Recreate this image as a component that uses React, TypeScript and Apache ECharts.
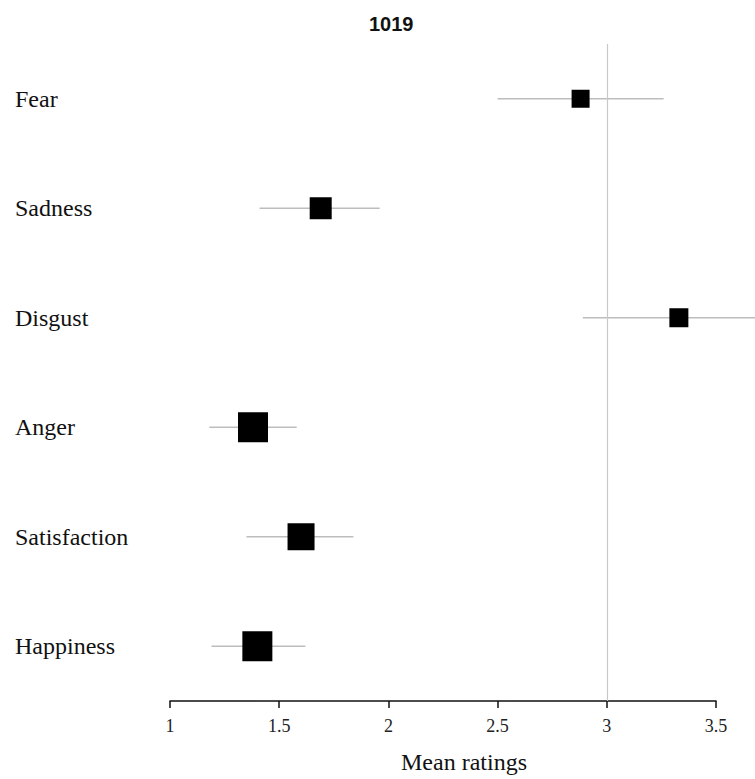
import React, { useEffect, useRef } from "react";
import * as echarts from "echarts";

const categories = ["Fear", "Sadness", "Disgust", "Anger", "Satisfaction", "Happiness"];
const means = [2.88, 1.69, 3.33, 1.38, 1.6, 1.4];
const lower = [2.5, 1.41, 2.89, 1.18, 1.35, 1.19];
const upper = [3.26, 1.96, 3.78, 1.58, 1.84, 1.62];
const weights = [18, 22, 19, 30, 27, 30];
const xTicks = [1, 1.5, 2, 2.5, 3, 3.5];
const referenceValue = 3;

export default function App() {
  const ref = useRef<HTMLDivElement>(null);
  useEffect(() => {
    document.body.style.margin = "0";
    const chart = echarts.init(ref.current!, null, { renderer: "svg" });
    const serif = "'Liberation Serif', 'Times New Roman', serif";
    chart.setOption({
      animation: false,
      backgroundColor: "#ffffff",
      title: {
        text: "1019",
        left: 364,
        top: 9,
        textStyle: { fontFamily: "'Liberation Sans', Arial, sans-serif", fontWeight: "bold", fontSize: 20, color: "#111" },
      },
      grid: { left: 170, right: 39, top: 44, bottom: 77 },
      xAxis: {
        type: "value",
        min: xTicks[0],
        max: xTicks[xTicks.length - 1],
        interval: 0.5,
        axisLine: { show: true, onZero: false, lineStyle: { color: "#111", width: 1.5 } },
        axisTick: { show: true, length: 7, lineStyle: { color: "#111", width: 1.5 } },
        splitLine: { show: false },
        axisLabel: { fontFamily: serif, fontSize: 18, color: "#222", margin: 16, formatter: (v: number) => String(v) },
        name: "Mean ratings",
        nameLocation: "middle",
        nameGap: 49,
        nameTextStyle: { fontFamily: serif, fontSize: 24, color: "#111", padding: [0, 0, 0, 42] },
      },
      yAxis: {
        type: "category",
        data: categories,
        inverse: true,
        axisLine: { show: false },
        axisTick: { show: false },
        splitLine: { show: false },
        axisLabel: { align: "left", margin: 155, fontFamily: serif, fontSize: 24, color: "#111" },
      },
      series: [
        {
          type: "custom",
          clip: false,
          data: categories.map((c, i) => [i, lower[i], upper[i]]),
          renderItem: (params: any, api: any) => {
            const idx = api.value(0);
            const p1 = api.coord([api.value(1), idx]);
            const p2 = api.coord([api.value(2), idx]);
            return {
              type: "line",
              shape: { x1: p1[0], y1: p1[1], x2: p2[0], y2: p2[1] },
              style: { stroke: "#bdbdbd", lineWidth: 1.5 },
            };
          },
          encode: { x: [1, 2], y: 0 },
          z: 1,
        },
        {
          type: "scatter",
          symbol: "rect",
          data: categories.map((c, i) => ({ value: [means[i], i], symbolSize: weights[i] })),
          itemStyle: { color: "#000", opacity: 1 },
          markLine: {
            silent: true,
            symbol: ["none", "none"],
            label: { show: false },
            lineStyle: { color: "#c8c8c8", type: "solid", width: 1.2 },
            data: [{ xAxis: referenceValue }],
          },
          z: 3,
        },
      ],
    });
    return () => chart.dispose();
  }, []);
  return <div ref={ref} style={{ width: 755, height: 779 }} />;
}
